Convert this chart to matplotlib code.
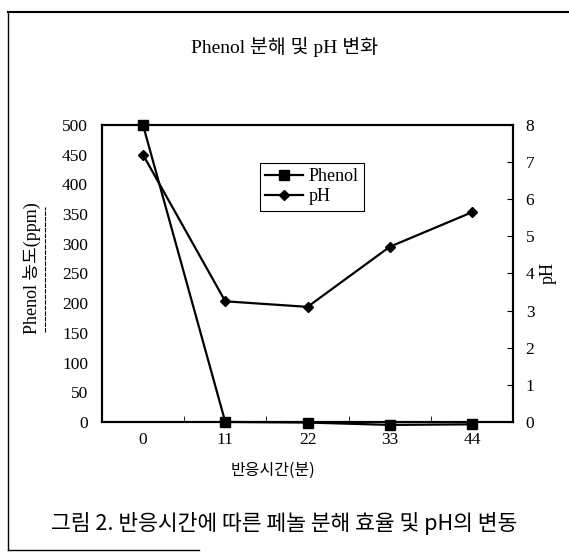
import matplotlib
matplotlib.use("Agg")
import matplotlib.pyplot as plt
from matplotlib.lines import Line2D

# 데이터
times = ["0", "11", "22", "33", "44"]
phenol = [500, 0, -1, -5, -4]
ph = [7.2, 3.25, 3.1, 4.72, 5.65]

serif = ["Liberation Serif", "Noto Sans CJK KR"]
sans = ["Noto Sans CJK KR", "DejaVu Sans"]
plt.rcParams["font.family"] = serif

fig = plt.figure(figsize=(5.69, 5.53), dpi=100)
ax = fig.add_axes([0.179, 0.237, 0.723, 0.537])
ax2 = ax.twinx()

x = range(len(times))
l1, = ax.plot(x, phenol, color="black", lw=1.6, marker="s", markersize=7,
              clip_on=False, zorder=5, label="Phenol")
l2, = ax2.plot(x, ph, color="black", lw=1.6, marker="D", markersize=5.5,
               clip_on=False, zorder=5, label="pH")

ax.set_xlim(-0.5, len(times) - 0.5)
ax.set_ylim(0, 500)
ax2.set_ylim(0, 8)
ax.set_xticks(list(x))
ax.set_xticklabels(times, fontsize=12.5)
ax.set_xticks([i + 0.5 for i in range(len(times) - 1)], minor=True)
ax.tick_params(axis="x", which="major", length=0, pad=7)
ax.tick_params(axis="x", which="minor", direction="in", length=4)
ax.set_yticks(range(0, 501, 50))
ax.tick_params(axis="y", length=0, labelsize=12.5, pad=10)
ax2.set_yticks(range(0, 9))
ax2.tick_params(axis="y", direction="in", length=4, labelsize=12.5, pad=9)

for a in (ax, ax2):
    for s in a.spines.values():
        s.set_linewidth(1.5)

ax.set_xlabel("반응시간(분)", fontsize=11.5, family=sans)
ax.xaxis.set_label_coords(0.416, -0.133)
ax.set_ylabel("Phenol 농도(ppm)", fontsize=13, family=serif)
ax.yaxis.set_label_coords(-0.148, 0.518)
ax2.set_ylabel("pH", fontsize=13, labelpad=4)

leg = ax.legend(handles=[l1, l2], loc="upper left", bbox_to_anchor=(0.384, 0.872),
                borderaxespad=0, fancybox=False, edgecolor="black", fontsize=13,
                handlelength=2.1, borderpad=0.3, labelspacing=0.15,
                handletextpad=0.3, framealpha=1)
leg.get_frame().set_linewidth(0.8)

fig.text(0.5, 0.915, "Phenol 분해 및 pH 변화", ha="center", va="center", fontsize=14)
fig.text(0.5, 0.054, "그림 2. 반응시간에 따른 페놀 분해 효율 및 pH의 변동", ha="center",
         va="center", fontsize=15.5, family=sans)

# 밑줄 및 외곽선
fig.add_artist(Line2D([0.079, 0.079], [0.40, 0.626], color="black", lw=0.8, ls=(0, (4, 1))))
fig.add_artist(Line2D([0.014, 0.014], [0.005, 0.978], color="black", lw=1.0))
fig.add_artist(Line2D([0.014, 1.0], [0.978, 0.978], color="black", lw=1.5))
fig.add_artist(Line2D([0.014, 0.35], [0.005, 0.005], color="black", lw=1.0))

fig.savefig("out.png", dpi=100)
